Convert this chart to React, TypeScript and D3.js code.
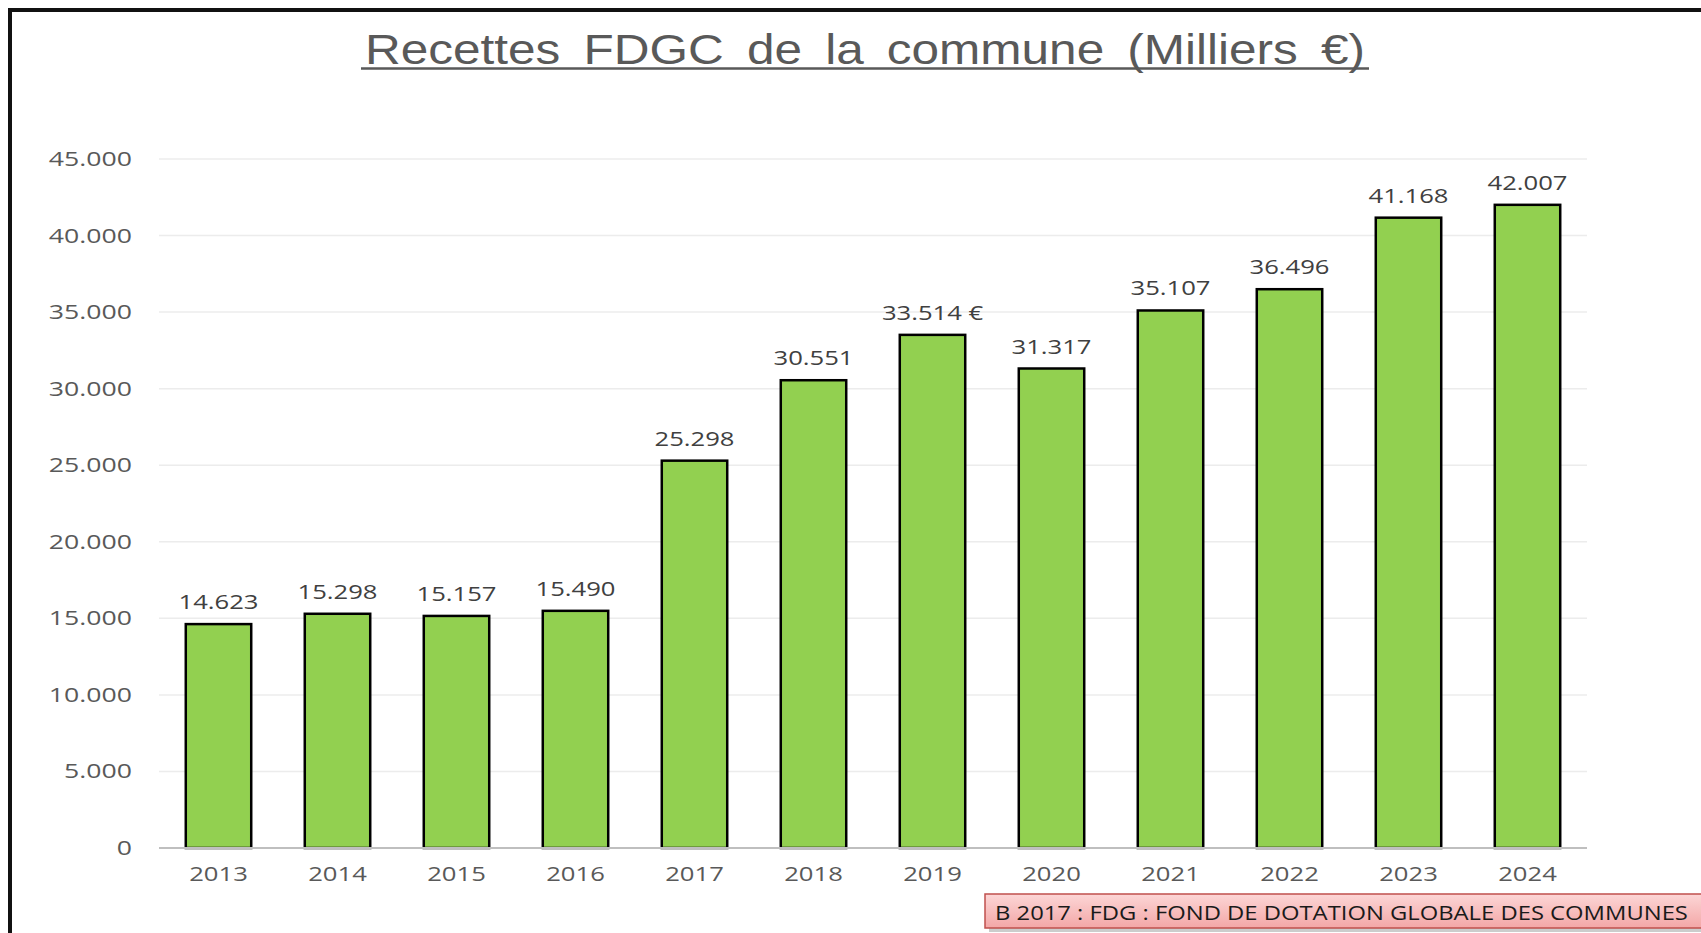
import React from "react";
import * as d3 from "d3";

const years = ["2013","2014","2015","2016","2017","2018","2019","2020","2021","2022","2023","2024"];
const values = [14623,15298,15157,15490,25298,30551,33514,31317,35107,36496,41168,42007];
const labelSuffix = ["","","","","","",' €',"","","","",""];
const yTicks = [0,5000,10000,15000,20000,25000,30000,35000,40000,45000];
const title = "Recettes FDGC de la commune (Milliers €)";
const note = "B 2017 : FDG : FOND DE DOTATION GLOBALE DES COMMUNES";

const W = 1701, H = 933;
const left = 159, right = 1587, top = 159, bottom = 848;
const FONT = "'Open Sans', sans-serif";

const fmt = (v: number) => v === 0 ? "0" : d3.format(",")(v).replace(/,/g, ".");

function T({ x, y, anchor = "middle", size = 20.5, sx = 1.25, fill = "#595959", children }: any) {
  return (
    <text transform={`translate(${x},${y}) scale(${sx},1)`} textAnchor={anchor}
      fontFamily={FONT} fontSize={size} fill={fill}>{children}</text>
  );
}

export default function App() {
  const x = d3.scaleBand().domain(years).range([left, right]).paddingInner(0.45).paddingOuter(0.225);
  const y = d3.scaleLinear().domain([0, 45000]).range([bottom, top]);
  return (
    <svg width={W} height={H} style={{ position: "fixed", left: 0, top: 0, background: "#fff" }}>
      <defs>
        <linearGradient id="pink" x1="0" y1="0" x2="0" y2="1">
          <stop offset="0" stopColor="#fcd6d6" />
          <stop offset="1" stopColor="#f3a7a7" />
        </linearGradient>
      </defs>
      <rect x={0} y={0} width={W} height={H} fill="#fff" />
      {/* frame */}
      <rect x={8} y={8} width={W} height={4} fill="#111" />
      <rect x={8} y={8} width={4} height={H} fill="#111" />
      {/* title */}
      <text x={865} y={64} textAnchor="middle" fontFamily="'Liberation Sans', Arial, sans-serif"
        fontSize={42} fill="#595959" textLength={1000} lengthAdjust="spacingAndGlyphs"
        wordSpacing={8}>{title}</text>
      <line x1={361} x2={1369} y1={68.5} y2={68.5} stroke="#595959" strokeWidth={2.5} />
      {/* grid */}
      {yTicks.map(t => (
        <g key={t}>
          {t !== 0 && <line x1={left} x2={right} y1={y(t)} y2={y(t)} stroke="#ececec" strokeWidth={1.5} />}
          <T x={132} y={y(t) + 7} anchor="end" sx={1.3}>{fmt(t)}</T>
        </g>
      ))}
      {/* bars */}
      {years.map((yr, i) => (
        <g key={yr}>
          <rect x={x(yr)!} y={y(values[i])} width={x.bandwidth()} height={bottom - y(values[i])}
            fill="#92d050" stroke="#000" strokeWidth={2.5} />
          <T x={x(yr)! + x.bandwidth() / 2} y={y(values[i]) - 15} fill="#404040">
            {fmt(values[i]) + labelSuffix[i]}
          </T>
          <T x={x(yr)! + x.bandwidth() / 2} y={881}>{yr}</T>
        </g>
      ))}
      <line x1={left} x2={right} y1={bottom} y2={bottom} stroke="#bfbfbf" strokeWidth={2} />
      {/* note box */}
      <rect x={989} y={898} width={760} height={34} fill="#999" opacity={0.5} />
      <rect x={985} y={894} width={760} height={34} fill="url(#pink)" stroke="#c0504d" strokeWidth={1.5} />
      <T x={995} y={920} anchor="start" size={20} sx={1.19} fill="#1a1a1a">{note}</T>
    </svg>
  );
}
